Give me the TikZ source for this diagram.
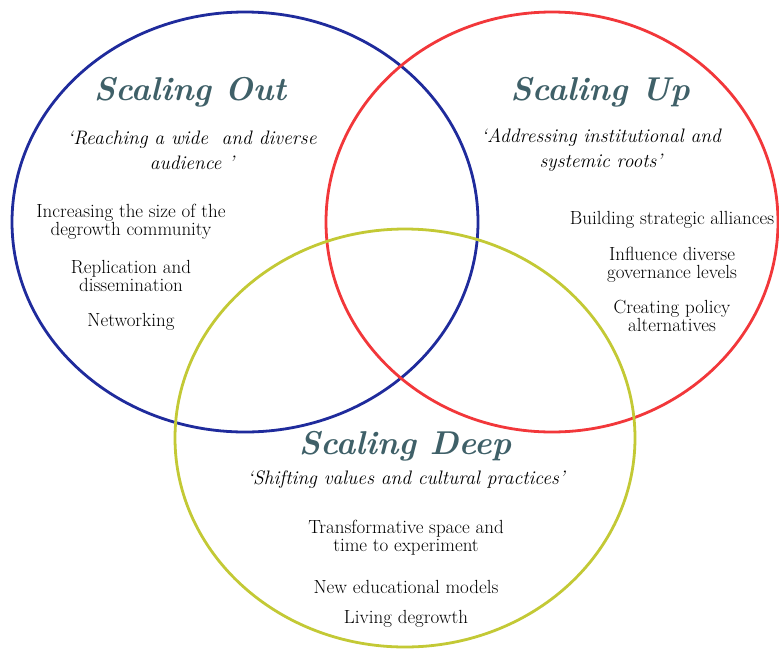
\documentclass[tikz,border=0pt]{standalone}
\usepackage{fontspec}
\definecolor{cblue}{HTML}{1F2B9C}
\definecolor{cred}{HTML}{F2373A}
\definecolor{cyel}{HTML}{C3C935}
\definecolor{ctitle}{HTML}{3F6068}
\tikzset{
  ring/.style={line width=2.8pt},
  ttl/.style={font=\fontsize{33}{38}\selectfont\bfseries\itshape, text=ctitle, inner sep=0pt},
  sub/.style={font=\fontsize{19.5}{25}\selectfont\itshape, align=center, inner sep=0pt},
  item/.style={font=\fontsize{19}{17.8}\selectfont, align=center, inner sep=0pt}
}
\begin{document}
\begin{tikzpicture}[x=1pt,y=-1pt]
\useasboundingbox (0,0) rectangle (779,649);
\fill[white] (0,0) rectangle (779,649);
\draw[ring,cblue] (245,222) ellipse [x radius=233pt, y radius=210pt];
\draw[ring,cred] (552,222) ellipse [x radius=226pt, y radius=210pt];
\draw[ring,cyel] (405,438) ellipse [x radius=230pt, y radius=209pt];

\node[ttl] (tout) at (190,92) {Scaling Out};
\node[sub] (sout) at (192,150) {‘Reaching a wide\ \ and diverse\\audience ’};
\node[ttl] (tup) at (600,92) {Scaling Up};
\node[sub] (sup) at (601,150) {‘Addressing institutional and\\systemic roots’};
\node[ttl] (tdeep) at (405,446) {Scaling Deep};
\node[sub] (sdeep) at (406,480) {‘Shifting values and cultural practices’};

\node[item] (o1) at (131,222) {Increasing the size of the\\degrowth community};
\node[item] (o2) at (131,276) {Replication and\\dissemination};
\node[item] (o3) at (131,322) {Networking};

\node[item] (u1) at (672,220) {Building strategic alliances};
\node[item] (u2) at (672,265) {Influence diverse\\governance levels};
\node[item] (u3) at (672,316) {Creating policy\\alternatives};

\node[item] (d1) at (406,538) {Transformative space and\\time to experiment};
\node[item] (d2) at (406,587) {New educational models};
\node[item] (d3) at (406,619) {Living degrowth};
\end{tikzpicture}
\end{document}
